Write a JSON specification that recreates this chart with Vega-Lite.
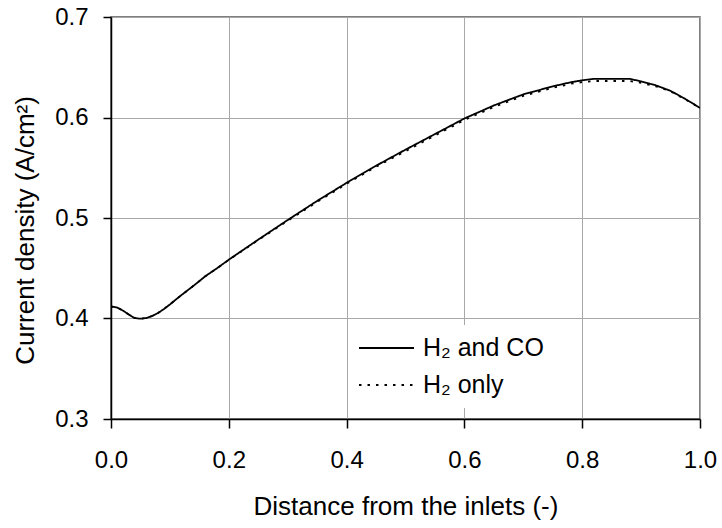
{
  "$schema": "https://vega.github.io/schema/vega-lite/v6.json",
  "width": 589,
  "height": 402,
  "autosize": {"type": "none"},
  "padding": {"left": 111, "top": 17, "right": 22, "bottom": 109},
  "background": "white",
  "config": {
    "font": "Liberation Sans",
    "view": {"stroke": "#555555", "strokeWidth": 1.5},
    "axis": {"labelFont": "Liberation Sans", "titleFont": "Liberation Sans", "labelColor": "black", "titleColor": "black", "titleFontWeight": "normal"}
  },
  "datasets": {
    "curves": [
      {"x": 0.00, "y": 0.412, "series": "H₂ and CO"},
      {"x": 0.01, "y": 0.411, "series": "H₂ and CO"},
      {"x": 0.02, "y": 0.408, "series": "H₂ and CO"},
      {"x": 0.03, "y": 0.404, "series": "H₂ and CO"},
      {"x": 0.04, "y": 0.4005, "series": "H₂ and CO"},
      {"x": 0.05, "y": 0.3998, "series": "H₂ and CO"},
      {"x": 0.06, "y": 0.4005, "series": "H₂ and CO"},
      {"x": 0.07, "y": 0.4025, "series": "H₂ and CO"},
      {"x": 0.08, "y": 0.4055, "series": "H₂ and CO"},
      {"x": 0.09, "y": 0.4095, "series": "H₂ and CO"},
      {"x": 0.10, "y": 0.414, "series": "H₂ and CO"},
      {"x": 0.12, "y": 0.4235, "series": "H₂ and CO"},
      {"x": 0.14, "y": 0.4325, "series": "H₂ and CO"},
      {"x": 0.16, "y": 0.442, "series": "H₂ and CO"},
      {"x": 0.18, "y": 0.450, "series": "H₂ and CO"},
      {"x": 0.20, "y": 0.4585, "series": "H₂ and CO"},
      {"x": 0.25, "y": 0.4785, "series": "H₂ and CO"},
      {"x": 0.30, "y": 0.498, "series": "H₂ and CO"},
      {"x": 0.35, "y": 0.517, "series": "H₂ and CO"},
      {"x": 0.40, "y": 0.535, "series": "H₂ and CO"},
      {"x": 0.45, "y": 0.552, "series": "H₂ and CO"},
      {"x": 0.50, "y": 0.568, "series": "H₂ and CO"},
      {"x": 0.55, "y": 0.5835, "series": "H₂ and CO"},
      {"x": 0.60, "y": 0.599, "series": "H₂ and CO"},
      {"x": 0.65, "y": 0.612, "series": "H₂ and CO"},
      {"x": 0.70, "y": 0.623, "series": "H₂ and CO"},
      {"x": 0.75, "y": 0.631, "series": "H₂ and CO"},
      {"x": 0.78, "y": 0.635, "series": "H₂ and CO"},
      {"x": 0.80, "y": 0.637, "series": "H₂ and CO"},
      {"x": 0.82, "y": 0.6385, "series": "H₂ and CO"},
      {"x": 0.88, "y": 0.6385, "series": "H₂ and CO"},
      {"x": 0.90, "y": 0.636, "series": "H₂ and CO"},
      {"x": 0.925, "y": 0.632, "series": "H₂ and CO"},
      {"x": 0.95, "y": 0.6265, "series": "H₂ and CO"},
      {"x": 0.975, "y": 0.6185, "series": "H₂ and CO"},
      {"x": 1.00, "y": 0.6095, "series": "H₂ and CO"},
      {"x": 0.00, "y": 0.412, "series": "H₂ only"},
      {"x": 0.01, "y": 0.411, "series": "H₂ only"},
      {"x": 0.02, "y": 0.408, "series": "H₂ only"},
      {"x": 0.03, "y": 0.404, "series": "H₂ only"},
      {"x": 0.04, "y": 0.4005, "series": "H₂ only"},
      {"x": 0.05, "y": 0.3998, "series": "H₂ only"},
      {"x": 0.06, "y": 0.4005, "series": "H₂ only"},
      {"x": 0.07, "y": 0.4025, "series": "H₂ only"},
      {"x": 0.08, "y": 0.4055, "series": "H₂ only"},
      {"x": 0.09, "y": 0.4095, "series": "H₂ only"},
      {"x": 0.10, "y": 0.414, "series": "H₂ only"},
      {"x": 0.12, "y": 0.4235, "series": "H₂ only"},
      {"x": 0.14, "y": 0.4325, "series": "H₂ only"},
      {"x": 0.16, "y": 0.442, "series": "H₂ only"},
      {"x": 0.18, "y": 0.450, "series": "H₂ only"},
      {"x": 0.20, "y": 0.4583, "series": "H₂ only"},
      {"x": 0.25, "y": 0.4780, "series": "H₂ only"},
      {"x": 0.30, "y": 0.4972, "series": "H₂ only"},
      {"x": 0.35, "y": 0.516, "series": "H₂ only"},
      {"x": 0.40, "y": 0.534, "series": "H₂ only"},
      {"x": 0.45, "y": 0.551, "series": "H₂ only"},
      {"x": 0.50, "y": 0.5665, "series": "H₂ only"},
      {"x": 0.55, "y": 0.582, "series": "H₂ only"},
      {"x": 0.60, "y": 0.5975, "series": "H₂ only"},
      {"x": 0.65, "y": 0.6105, "series": "H₂ only"},
      {"x": 0.70, "y": 0.6215, "series": "H₂ only"},
      {"x": 0.75, "y": 0.6295, "series": "H₂ only"},
      {"x": 0.78, "y": 0.6335, "series": "H₂ only"},
      {"x": 0.80, "y": 0.6352, "series": "H₂ only"},
      {"x": 0.82, "y": 0.6363, "series": "H₂ only"},
      {"x": 0.88, "y": 0.6363, "series": "H₂ only"},
      {"x": 0.90, "y": 0.6345, "series": "H₂ only"},
      {"x": 0.925, "y": 0.631, "series": "H₂ only"},
      {"x": 0.95, "y": 0.626, "series": "H₂ only"},
      {"x": 0.975, "y": 0.618, "series": "H₂ only"},
      {"x": 1.00, "y": 0.6095, "series": "H₂ only"}
    ]
  },
  "data": {"name": "curves"},
  "mark": {"type": "line", "color": "black", "strokeWidth": 1.8, "clip": true},
  "encoding": {
    "x": {
      "field": "x", "type": "quantitative",
      "scale": {"domain": [0, 1], "nice": false, "zero": false},
      "axis": {
        "title": "Distance from the inlets (-)",
        "values": [0, 0.2, 0.4, 0.6, 0.8, 1.0],
        "format": ".1f",
        "labelFontSize": 24,
        "labelBaseline": "alphabetic",
        "labelPadding": 39,
        "labelFlush": false,
        "labelOverlap": false,
        "tickSize": 9,
        "tickColor": "black",
        "tickWidth": 1.5,
        "domainColor": "black",
        "domainWidth": 1.5,
        "grid": true,
        "gridColor": "#a8a8a8",
        "gridWidth": 1,
        "titleFontSize": 26,
        "titleBaseline": "alphabetic",
        "titleY": 95
      }
    },
    "y": {
      "field": "y", "type": "quantitative",
      "scale": {"domain": [0.3, 0.7], "nice": false, "zero": false},
      "axis": {
        "title": "Current density (A/cm²)",
        "values": [0.3, 0.4, 0.5, 0.6, 0.7],
        "format": ".1f",
        "labelFontSize": 24,
        "labelPadding": 15,
        "labelFlush": false,
        "labelOverlap": false,
        "tickSize": 8,
        "tickColor": "black",
        "tickWidth": 1.5,
        "domainColor": "black",
        "domainWidth": 1.5,
        "grid": true,
        "gridColor": "#a8a8a8",
        "gridWidth": 1,
        "titleFontSize": 26,
        "titleAngle": -90,
        "titleBaseline": "alphabetic",
        "titleAlign": "center",
        "titleX": -78,
        "titleY": 213
      }
    },
    "strokeDash": {
      "field": "series", "type": "nominal",
      "scale": {"domain": ["H₂ and CO", "H₂ only"], "range": [[1, 0], [2.5, 6]]},
      "legend": {
        "title": null,
        "orient": "none",
        "legendX": 239,
        "legendY": 308,
        "fillColor": "white",
        "padding": 8,
        "symbolType": "stroke",
        "symbolSize": 3025,
        "symbolStrokeColor": "black",
        "symbolStrokeWidth": 1.8,
        "clipHeight": 30,
        "rowPadding": 7,
        "labelOffset": 8,
        "labelFontSize": 25,
        "labelColor": "black",
        "labelFont": "Liberation Sans",
        "labelLimit": 300
      }
    }
  }
}
